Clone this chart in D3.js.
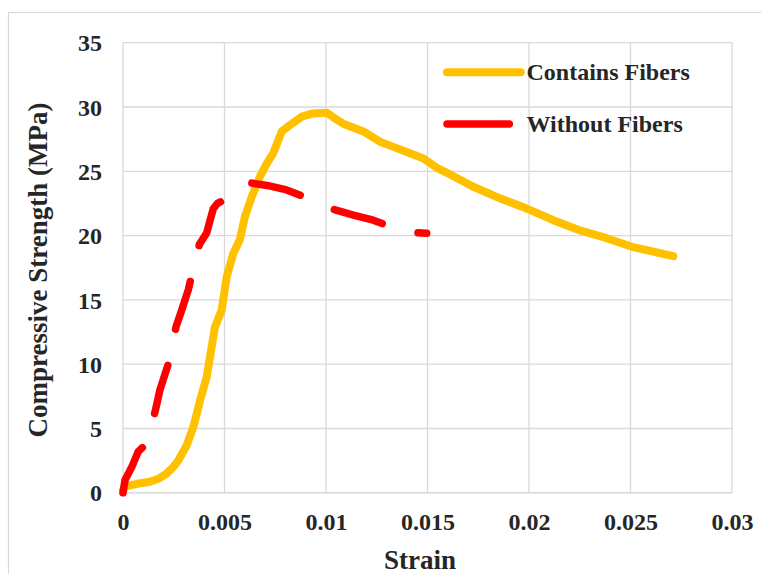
<!DOCTYPE html>
<html>
<head>
<meta charset="utf-8">
<script src="https://cdn.jsdelivr.net/npm/d3@7"></script>
<style>
  html, body { margin: 0; padding: 0; background: #fff; }
  svg { display: block; }
</style>
</head>
<body>
<svg id="chart" width="761" height="574"></svg>
<script>
// Stress–strain curves: [strain, compressive strength in MPa]
const withFibers = [
  [0, 0.2], [0.0001, 0.49], [0.0007, 0.7], [0.00133, 0.86], [0.00175, 1.1], [0.00215, 1.5],
  [0.00245, 1.95], [0.00272, 2.5], [0.00314, 3.7], [0.00347, 5.14], [0.0038, 7.2],
  [0.00412, 9.0], [0.00437, 11.36], [0.00453, 12.9], [0.00486, 14.2], [0.00511, 16.8],
  [0.00543, 18.6], [0.00576, 19.7], [0.00601, 21.5], [0.00634, 23.0], [0.00675, 24.6],
  [0.00708, 25.6], [0.0074, 26.4], [0.00782, 28.1], [0.00823, 28.6], [0.0088, 29.25],
  [0.00937, 29.5], [0.01003, 29.56], [0.01036, 29.2], [0.01085, 28.7], [0.01184, 28.1],
  [0.01266, 27.3], [0.01332, 26.9], [0.01414, 26.4], [0.0148, 26.0], [0.01553, 25.2],
  [0.01619, 24.7], [0.01726, 23.8], [0.01857, 22.9], [0.01989, 22.1], [0.0212, 21.2],
  [0.02251, 20.4], [0.02383, 19.8], [0.02514, 19.1], [0.02711, 18.4]
];

const withoutFibers = [
  [0, 0], [0.0001, 1.0], [0.00043, 2.0], [0.00075, 3.2], [0.00117, 3.85], [0.00158, 6.3],
  [0.00182, 8.0], [0.00232, 10.46], [0.00261, 12.9], [0.00289, 14.2], [0.00322, 15.8],
  [0.00338, 16.9], [0.00376, 19.3], [0.00412, 20.2], [0.00445, 22.1], [0.00465, 22.5],
  [0.00502, 22.8], [0.00627, 24.1], [0.0071, 23.9], [0.00806, 23.55], [0.00897, 23.0],
  [0.00965, 22.55], [0.01033, 22.05], [0.01135, 21.6], [0.01233, 21.2], [0.01307, 20.75],
  [0.01375, 20.45], [0.01447, 20.22], [0.01496, 20.18]
];

const seriesNames = ["Contains Fibers", "Without Fibers"];
const seriesColors = ["#FFC000", "#FF0000"];
const xTicks = [0, 0.005, 0.01, 0.015, 0.02, 0.025, 0.03];
const xTickLabels = ["0", "0.005", "0.01", "0.015", "0.02", "0.025", "0.03"];
const yTicks = [0, 5, 10, 15, 20, 25, 30, 35];
const xTitle = "Strain";
const yTitle = "Compressive Strength (MPa)";

const FONT = "'Liberation Serif', 'Times New Roman', serif";
const INK = "#262626";

const svg = d3.select("#chart");
const W = 761, H = 574;
const plot = { left: 123, right: 732, top: 42.7, bottom: 492.8 };

function styleText(sel, size) {
  return sel.style("font-family", FONT).style("font-weight", "bold")
    .style("font-size", size + "px").attr("fill", INK);
}

// outer chart frame
svg.append("rect")
  .attr("x", 8.5).attr("y", 12.5)
  .attr("width", W + 20).attr("height", H + 20)
  .attr("fill", "#fff").attr("stroke", "#d9d9d9").attr("stroke-width", 1.2);

const x = d3.scaleLinear().domain([0, 0.03]).range([plot.left, plot.right]);
const y = d3.scaleLinear().domain([0, 35]).range([plot.bottom, plot.top]);

// gridlines
const grid = svg.append("g");
grid.selectAll("line.v").data(xTicks).join("line")
  .attr("x1", d => x(d)).attr("x2", d => x(d))
  .attr("y1", plot.top).attr("y2", plot.bottom)
  .attr("stroke", "#d9d9d9").attr("stroke-width", 1.3);
grid.selectAll("line.h").data(yTicks).join("line")
  .attr("y1", d => y(d)).attr("y2", d => y(d))
  .attr("x1", plot.left).attr("x2", plot.right)
  .attr("stroke", d => d === 0 ? "#cfcfcf" : "#d9d9d9").attr("stroke-width", 1.3);

// axes (labels only, lines come from the grid)
const xAxis = d3.axisBottom(x).tickValues(xTicks)
  .tickFormat((d, i) => xTickLabels[i]).tickSize(0).tickPadding(0);
const gx = svg.append("g").attr("transform", `translate(0,${plot.bottom})`).call(xAxis);
gx.select(".domain").remove();
styleText(gx.selectAll("text").attr("y", 37).attr("dy", null), 24);

const yAxis = d3.axisLeft(y).tickValues(yTicks).tickSize(0).tickPadding(0);
const gy = svg.append("g").attr("transform", `translate(${plot.left},0)`).call(yAxis);
gy.select(".domain").remove();
styleText(gy.selectAll("text").attr("x", -21).attr("dy", "0.34em"), 24);

// axis titles
styleText(svg.append("text")
  .attr("x", 420).attr("y", 569)
  .attr("text-anchor", "middle")
  .text(xTitle), 27);
styleText(svg.append("text")
  .attr("transform", `translate(47,270) rotate(-90)`)
  .attr("text-anchor", "middle")
  .text(yTitle), 27);

// curves
const line = d3.line().x(d => x(d[0])).y(d => y(d[1])).curve(d3.curveLinear);

svg.append("path")
  .datum(withFibers)
  .attr("d", line)
  .attr("fill", "none")
  .attr("stroke", seriesColors[0])
  .attr("stroke-width", 8)
  .attr("stroke-linecap", "round")
  .attr("stroke-linejoin", "round");

svg.append("path")
  .datum(withoutFibers)
  .attr("d", line)
  .attr("fill", "none")
  .attr("stroke", seriesColors[1])
  .attr("stroke-width", 7.5)
  .attr("stroke-dasharray", "50,37")
  .attr("stroke-linecap", "round")
  .attr("stroke-linejoin", "round");

// legend
const legend = svg.append("g");
const legendRows = [
  { y: 72.3, x2: 520.7, w: 8, ty: 79.5 },
  { y: 124, x2: 509.3, w: 7.5, ty: 131.7 }
];
legendRows.forEach((r, i) => {
  legend.append("line")
    .attr("x1", 447).attr("x2", r.x2)
    .attr("y1", r.y).attr("y2", r.y)
    .attr("stroke", seriesColors[i])
    .attr("stroke-width", r.w)
    .attr("stroke-linecap", "round");
  styleText(legend.append("text")
    .attr("x", 526.5).attr("y", r.ty)
    .text(seriesNames[i]), 24);
});
</script>
</body>
</html>
